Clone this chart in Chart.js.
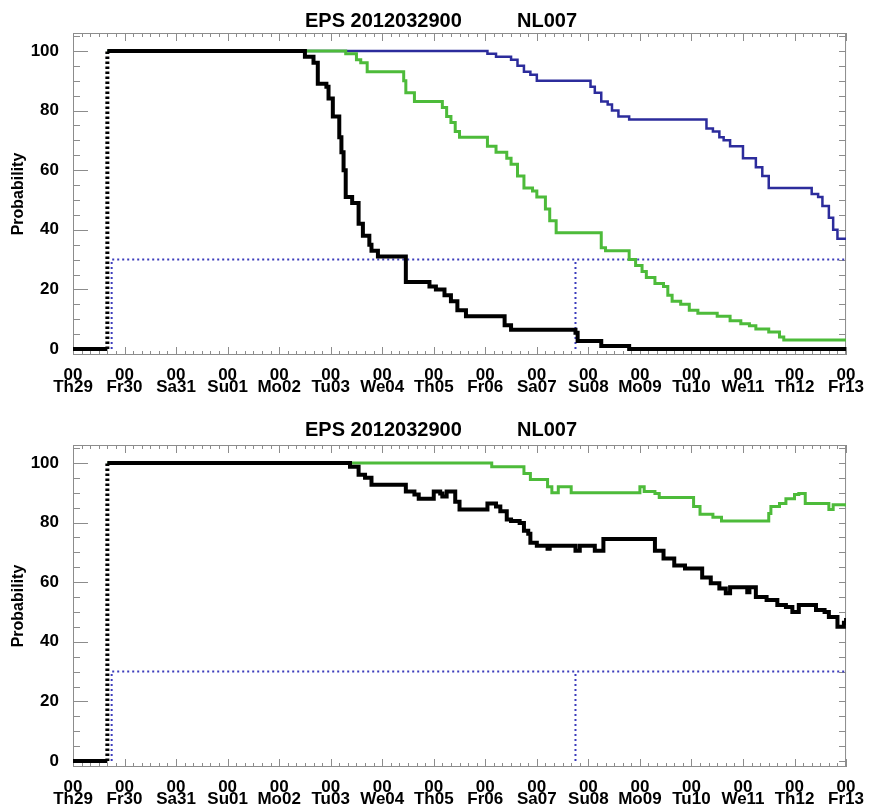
<!DOCTYPE html>
<html>
<head>
<meta charset="utf-8">
<title>EPS 2012032900 NL007</title>
<script src="https://cdn.jsdelivr.net/npm/chart.js@4.4.0/dist/chart.umd.min.js"></script>
<style>
  body { margin: 0; background: #fff; }
  .panel { position: relative; width: 870px; }
  #topPanel { height: 400px; }
  #bottomPanel { height: 408px; }
</style>
</head>
<body>
<div class="panel" id="topPanel"><canvas id="topChart"></canvas></div>
<div class="panel" id="bottomPanel"><canvas id="bottomChart"></canvas></div>
<script>
// Axis labels (x is hours since Th29 00)
const dayLabels = ["Th29", "Fr30", "Sa31", "Su01", "Mo02", "Tu03", "We04", "Th05",
  "Fr06", "Sa07", "Su08", "Mo09", "Tu10", "We11", "Th12", "Fr13"];
const hourLabel = "00";
const yTickValues = [0, 20, 40, 60, 80, 100];
const runTitle = "EPS 2012032900";
const stationName = "NL007";
const yTitle = "Probability";

// Threshold markers
const thresholdProb = 30;
const thresholdStartHour = 18;
const thresholdMarkHour = 234;

// Top panel series
const topBlackHours = [0, 16, 16, 108, 112, 114, 118, 119, 121, 124, 125, 126, 127, 130, 133, 135, 138, 139,
  142, 155, 166, 169, 173, 176, 179, 183, 201, 204, 234, 235, 246, 259, 360];
const topBlackProb = [0, 0, 100, 98, 96, 89, 88, 84, 78, 71, 66, 60, 51, 49, 42, 38, 35, 33,
  31, 22.5, 21, 20, 18, 16, 13, 11, 8, 6.5, 5.5, 2.7, 1, 0, 0];

const topGreenHours = [16, 127, 132, 134, 137, 154, 155, 159, 172, 174, 176, 178, 180, 193, 197, 202, 204, 207,
  210, 214, 216, 220, 222, 225, 246, 248, 259, 262, 265, 267, 271, 275, 277, 279, 283, 287, 291, 300, 306,
  311, 315, 318, 324, 329, 331, 360];
const topGreenProb = [100, 99, 97, 96, 93, 90, 86, 83, 81, 78, 76, 73, 71, 68, 66, 64, 62, 58,
  54, 53, 51, 47, 43, 39, 34, 33, 30, 28, 26, 24, 22, 21, 18, 16, 15, 13, 12, 11, 9.5,
  8.5, 7.8, 6.7, 5.7, 4, 3, 3];

const topBlueHours = [16, 193, 197, 204, 207, 210, 213, 216, 241, 243, 246, 249, 251, 254, 259, 295, 298, 301,
  303, 306, 312, 318, 321, 324, 344, 347, 349, 352, 354, 356, 360];
const topBlueProb = [100, 99, 98, 97, 95, 93, 92, 90, 88, 86, 83, 82, 80, 78, 77, 74, 73, 71,
  70, 68, 64, 61, 58, 54, 52, 51, 48, 44, 40, 37, 37];

// Bottom panel series
const bottomBlackHours = [0, 16, 16, 129, 133, 136, 139, 155, 159, 161, 168, 171, 172, 174, 178, 180, 193, 197,
  199, 202, 204, 208, 210, 212, 213, 216, 221, 222, 234, 236, 243, 247, 271, 275, 280, 285, 293, 297, 301,
  304, 306, 314, 315, 318, 323, 328, 332, 335, 338, 346, 350, 352, 356, 359, 360];
const bottomBlackProb = [0, 0, 100, 98.7, 96, 95, 92.7, 90.4, 89.4, 88, 90.4, 89.7, 88.7, 90.4, 87, 84.4, 86.4, 85.4,
  83.8, 81, 80.5, 79.8, 77.2, 76.2, 73.2, 72.2, 71.2, 72.2, 70.5, 72.2, 70.5, 74.5, 70.5, 67.9, 65.6, 64.6, 61.6, 59.6, 57.9,
  56.3, 58.3, 56.6, 58.3, 55, 54, 52.3, 51.7, 50, 52.3, 50.7, 50, 48.3, 45, 46.4, 48];

const bottomGreenHours = [16, 195, 210, 213, 221, 223, 226, 232, 264, 266, 271, 273, 289, 292, 298, 302, 324, 325,
  329, 332, 336, 338, 341, 352, 354, 360];
const bottomGreenProb = [100, 98.7, 96.4, 94.4, 92, 90, 92, 90, 92, 90.4, 89.7, 88.4, 85.4, 82.8, 81.8, 80.5, 83, 85.4,
  86.4, 88, 89.4, 89.7, 86.4, 84.4, 86, 85.4];

const toPoints = (hours, probs) => hours.map((h, i) => ({ x: h, y: probs[i] }));

// Title text above each panel
const titlePlugin = {
  id: "panelTitle",
  afterDraw(chart, args, opts) {
    const ctx = chart.ctx;
    ctx.save();
    ctx.font = 'bold 20px "Liberation Sans", Arial, sans-serif';
    ctx.fillStyle = "#000";
    ctx.textBaseline = "alphabetic";
    ctx.fillText(runTitle, 305, opts.baseline);
    ctx.fillText(stationName, 517, opts.baseline);
    ctx.restore();
  }
};

// Box frame with inward ticks on all four sides
const framePlugin = {
  id: "frameTicks",
  beforeDatasetsDraw(chart) {
    const { ctx, chartArea: a, scales: { x, y } } = chart;
    ctx.save();
    ctx.strokeStyle = "#8c8c8c";
    ctx.lineWidth = 1;
    ctx.strokeRect(a.left + 0.5, a.top + 0.5, a.width - 1, a.height - 1);
    ctx.beginPath();
    for (let v = 0; v <= 105; v += 5) {
      const py = Math.round(y.getPixelForValue(v)) + 0.5;
      ctx.moveTo(a.left, py);
      ctx.lineTo(a.left + (v % 20 === 0 ? 15 : 7), py);
      ctx.moveTo(a.right, py);
      ctx.lineTo(a.right - 7, py);
    }
    for (let h = 0; h <= 360; h += 4) {
      const px = Math.round(x.getPixelForValue(h)) + 0.5;
      const len = h % 24 === 0 ? 8 : 4;
      ctx.moveTo(px, a.bottom);
      ctx.lineTo(px, a.bottom - len);
      ctx.moveTo(px, a.top);
      ctx.lineTo(px, a.top + len);
    }
    ctx.stroke();
    ctx.restore();
  }
};

const tickFont = { family: '"Liberation Sans", Arial, sans-serif', size: 17, weight: "bold" };

function stepLine(data, color, width) {
  return {
    data: data,
    borderColor: color,
    borderWidth: width,
    pointRadius: 0,
    stepped: true,
    fill: false,
    // jump from 0 to 100 drawn dotted
    segment: {
      borderDash: (ctx) => (ctx.p1.parsed.y - ctx.p0.parsed.y > 50 ? [2.5, 2.5] : undefined)
    }
  };
}

function thresholdLines(markHour) {
  const dotted = { borderColor: "#3c3cbc", borderWidth: 2, borderDash: [2, 3], pointRadius: 0, fill: false };
  return [
    Object.assign({
      data: [
        { x: thresholdStartHour, y: 0 },
        { x: thresholdStartHour, y: thresholdProb },
        { x: 360, y: thresholdProb }
      ]
    }, dotted),
    Object.assign({
      data: [
        { x: markHour, y: 0 },
        { x: markHour, y: thresholdProb }
      ]
    }, dotted)
  ];
}

function makePanel(canvasId, datasets, topPad, xAxisHeight, titleBaseline) {
  return new Chart(document.getElementById(canvasId), {
    type: "line",
    data: { datasets: datasets },
    options: {
      responsive: true,
      maintainAspectRatio: false,
      animation: false,
      layout: { padding: { top: topPad, right: 20, left: 0, bottom: 0 } },
      plugins: {
        legend: { display: false },
        tooltip: { enabled: false },
        panelTitle: { baseline: titleBaseline }
      },
      scales: {
        x: {
          type: "linear",
          min: 0,
          max: 360,
          grid: { display: false },
          border: { display: false },
          afterBuildTicks: (scale) => {
            scale.ticks = dayLabels.map((d, i) => ({ value: i * 24 }));
          },
          afterFit: (scale) => { scale.height = xAxisHeight; },
          ticks: {
            autoSkip: false,
            maxRotation: 0,
            padding: 6,
            color: "#000",
            font: Object.assign({ lineHeight: 0.72 }, tickFont),
            callback: (value) => [hourLabel, dayLabels[Math.round(value / 24)]]
          }
        },
        y: {
          min: -2,
          max: 106,
          grid: { display: false },
          border: { display: false },
          afterBuildTicks: (scale) => {
            scale.ticks = yTickValues.map((v) => ({ value: v }));
          },
          afterFit: (scale) => { scale.width = 73; },
          ticks: { padding: 6, color: "#000", font: tickFont },
          title: {
            display: true,
            text: yTitle,
            color: "#000",
            padding: { top: 9, bottom: 0 },
            font: { family: '"Liberation Sans", Arial, sans-serif', size: 16, weight: "bold" }
          }
        }
      }
    },
    plugins: [titlePlugin, framePlugin]
  });
}

makePanel("topChart", [
  stepLine(toPoints(topBlackHours, topBlackProb), "#000000", 4),
  stepLine(toPoints(topGreenHours, topGreenProb), "#4dbb3a", 3),
  stepLine(toPoints(topBlueHours, topBlueProb), "#2c2c9c", 2.5),
  ...thresholdLines(thresholdMarkHour)
], 33, 45, 27);

makePanel("bottomChart", [
  stepLine(toPoints(bottomBlackHours, bottomBlackProb), "#000000", 4),
  stepLine(toPoints(bottomGreenHours, bottomGreenProb), "#4dbb3a", 3),
  ...thresholdLines(thresholdMarkHour)
], 45, 41, 36);
</script>
</body>
</html>
